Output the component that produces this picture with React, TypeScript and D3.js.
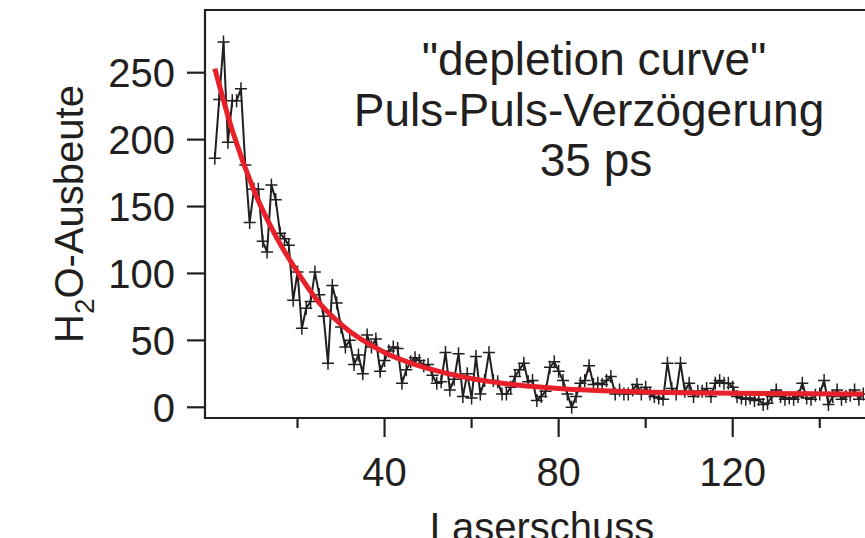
import React from "react";
import * as d3 from "d3";

// Laser shot number (x) and H2O yield (y)
const SHOTS: number[] = Array.from({ length: 150 }, (_, i) => i + 1);
const YIELD: number[] = [
  186, 230, 273, 198, 229, 229, 238, 181, 138, 163,
  163, 124, 116, 166, 155, 130, 126, 121, 80, 101,
  59, 74, 79, 101, 84, 68, 33, 91, 78, 60,
  45, 50, 32, 39, 25, 54, 45, 51, 27, 35,
  42, 45, 44, 18, 28, 34, 37, 35, 31, 32,
  24, 18, 19, 41, 13, 21, 40, 8, 25, 7,
  38, 10, 20, 41, 20, 19, 10, 10, 15, 23,
  28, 33, 19, 20, 5, 8, 12, 30, 34, 27,
  20, 10, 0, 8, 18, 20, 31, 17, 18, 17,
  20, 23, 10, 13, 10, 10, 13, 17, 10, 15,
  10, 8, 7, 6, 33, 14, 10, 33, 12, 18,
  8, 12, 12, 14, 8, 18, 20, 18, 18, 15,
  8, 7, 6, 7, 5, 6, 2, 3, 8, 13,
  8, 6, 7, 6, 8, 18, 7, 6, 9, 10,
  20, 2, 8, 13, 6, 8, 9, 13, 6, 10,
];

// Fitted depletion curve
const FIT_X: number[] = [1, 5, 10, 15, 20, 25, 30, 40, 50, 60, 70, 80, 100, 120, 150];
const FIT_Y: number[] = [253, 207, 162, 128, 101, 78, 62, 41, 29, 21.4, 16.8, 14, 11.4, 10.5, 10];

const X_MAJOR: number[] = [40, 80, 120];
const X_MINOR: number[] = [20, 60, 100, 140];
const Y_TICKS: number[] = [0, 50, 100, 150, 200, 250];

const TITLE_LINES: string[] = ['"depletion curve"', "Puls-Puls-Verzögerung", "35 ps"];
const X_LABEL = "Laserschuss";

const W = 865;
const H = 538;
const LEFT = 205;
const TOP = 10;
const BOTTOM = 418;
const INK = "#231f20";
const RED = "#e8202a";
const FONT = "'Liberation Sans', Arial, Helvetica, sans-serif";

export default function App() {
  const x = d3.scaleLinear().domain([-1.26, 150.4]).range([LEFT, W]);
  const y = d3.scaleLinear().domain([-8.0, 296.85]).range([BOTTOM, TOP]);

  const dataLine = d3
    .line<number>()
    .x((_, i) => x(SHOTS[i]))
    .y((d) => y(d))(YIELD) as string;

  const fitLine = d3
    .line<number>()
    .x((_, i) => x(FIT_X[i]))
    .y((d) => y(d))
    .curve(d3.curveMonotoneX)(FIT_Y) as string;

  const markers = YIELD.map((d, i) => {
    const px = x(SHOTS[i]);
    const py = y(d);
    return `M${px - 6},${py}h12M${px},${py - 6.5}v13`;
  }).join("");

  const titleX = [594, 589, 596];

  return (
    <svg
      width={W}
      height={H}
      style={{ position: "absolute", left: 0, top: 0, background: "#fff" }}
      fontFamily={FONT}
    >
      <defs>
        <clipPath id="plot">
          <rect x={LEFT} y={TOP} width={W - LEFT} height={BOTTOM - TOP} />
        </clipPath>
      </defs>
      <rect x={0} y={0} width={W} height={H} fill="#fff" />

      {/* frame */}
      <path
        d={`M${W},${TOP}H${LEFT}V${BOTTOM}H${W}`}
        fill="none"
        stroke={INK}
        strokeWidth={2.2}
      />

      {/* y ticks */}
      {Y_TICKS.map((t) => (
        <g key={"y" + t}>
          <line x1={LEFT - 18} x2={LEFT} y1={y(t)} y2={y(t)} stroke={INK} strokeWidth={2.2} />
          <text
            x={175}
            y={y(t)}
            dy="0.36em"
            textAnchor="end"
            fontSize={40}
            fill={INK}
          >
            {t}
          </text>
        </g>
      ))}

      {/* x ticks */}
      {X_MAJOR.map((t) => (
        <g key={"xm" + t}>
          <line x1={x(t)} x2={x(t)} y1={BOTTOM} y2={BOTTOM + 19} stroke={INK} strokeWidth={2.2} />
          <text x={x(t)} y={486} textAnchor="middle" fontSize={40} fill={INK}>
            {t}
          </text>
        </g>
      ))}
      {X_MINOR.map((t) => (
        <line
          key={"xn" + t}
          x1={x(t)}
          x2={x(t)}
          y1={BOTTOM}
          y2={BOTTOM + 10}
          stroke={INK}
          strokeWidth={2.2}
        />
      ))}

      {/* data */}
      <g clipPath="url(#plot)">
        <path d={dataLine} fill="none" stroke={INK} strokeWidth={2} strokeLinejoin="miter" />
        <path d={markers} fill="none" stroke={INK} strokeWidth={1.5} />
        <path d={fitLine} fill="none" stroke={RED} strokeWidth={5} strokeLinecap="butt" />
      </g>

      {/* title */}
      {TITLE_LINES.map((s, i) => (
        <text
          key={"t" + i}
          x={titleX[i]}
          y={75 + i * 50.5}
          textAnchor="middle"
          fontSize={46}
          fill={INK}
        >
          {s}
        </text>
      ))}

      {/* axis labels */}
      <text x={542} y={541} textAnchor="middle" fontSize={40} fill={INK}>
        {X_LABEL}
      </text>
      <text
        transform={`translate(83,214) rotate(-90)`}
        textAnchor="middle"
        fontSize={40}
        fill={INK}
      >
        H
        <tspan fontSize={28} dy={11}>
          2
        </tspan>
        <tspan dy={-11}>O-Ausbeute</tspan>
      </text>
    </svg>
  );
}
